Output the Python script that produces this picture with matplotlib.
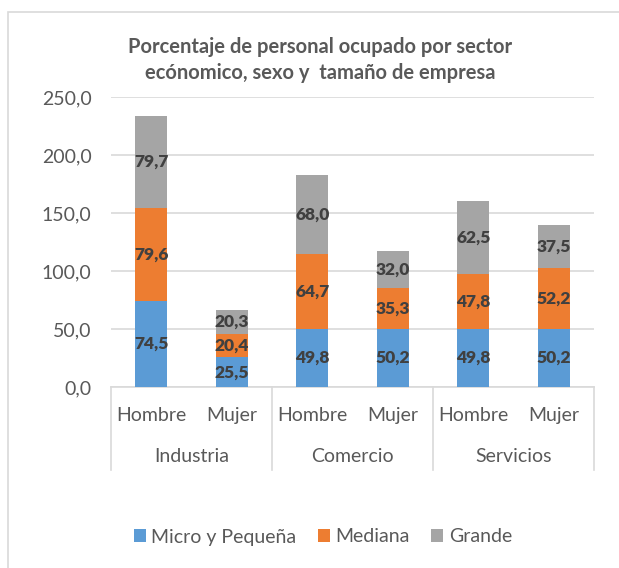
import numpy as np
import matplotlib.pyplot as plt
from matplotlib.patches import Rectangle

plt.rcParams['font.family'] = ['Lato', 'DejaVu Sans']

# data
sectors = ['Industria', 'Comercio', 'Servicios']
sexes = ['Hombre', 'Mujer']
micro = [74.5, 25.5, 49.8, 50.2, 49.8, 50.2]
mediana = [79.6, 20.4, 64.7, 35.3, 47.8, 52.2]
grande = [79.7, 20.3, 68.0, 32.0, 62.5, 37.5]
series_names = ['Micro y Pequeña', 'Mediana', 'Grande']
colors = ['#5b9bd5', '#ed7d31', '#a5a5a5']
yticks = [0, 50, 100, 150, 200, 250]

txt_gray = '#595959'
line_gray = '#d9d9d9'

fig = plt.figure(figsize=(6.19, 5.68), dpi=100)
ax = fig.add_axes([111 / 619, 1 - 387 / 568, 483 / 619, 290 / 568])

# chart border
fig.patches.append(Rectangle((8 / 619, -0.1), 1.2, 1.1 - 12 / 568, transform=fig.transFigure,
                             fill=False, edgecolor=line_gray, linewidth=1.2))

x = np.arange(len(micro))
bottom = np.zeros(len(micro))
for vals, name, col in zip([micro, mediana, grande], series_names, colors):
    bars = ax.bar(x, vals, width=0.40, bottom=bottom, color=col, label=name, zorder=3)
    labels = [f'{v:.1f}'.replace('.', ',') for v in vals]
    ax.bar_label(bars, labels=labels, label_type='center', fontsize=12.5,
                 fontweight='heavy', color='#404040', zorder=4)
    bottom += np.array(vals)

ax.set_xlim(-0.5, len(micro) - 0.5)
ax.set_ylim(0, 250)
ax.set_yticks(yticks)
ax.set_yticklabels([f'{v:.1f}'.replace('.', ',') for v in yticks], fontsize=14, color=txt_gray)
ax.tick_params(axis='y', length=0, pad=14)
ax.tick_params(axis='x', length=0, labelbottom=False)
ax.grid(axis='y', color=line_gray, linewidth=1.2, zorder=0)
for s in ['top', 'right', 'left']:
    ax.spines[s].set_visible(False)
ax.spines['bottom'].set_color(line_gray)
ax.spines['bottom'].set_linewidth(1.2)

# two-level category axis
trans = ax.get_xaxis_transform()
for b in [-0.5, 1.5, 3.5, 5.5]:
    ax.plot([b, b], [0, -0.285], transform=trans, color=line_gray, linewidth=1.2, clip_on=False)
for i in x:
    ax.text(i, -0.097, sexes[i % 2], transform=trans, ha='center', va='center',
            fontsize=14, color=txt_gray)
for j, sec in enumerate(sectors):
    ax.text(2 * j + 0.5, -0.24, sec, transform=trans, ha='center', va='center',
            fontsize=14, color=txt_gray)

fig.text(320 / 619, 1 - 60 / 568,
         'Porcentaje de personal ocupado por sector\necónomico, sexo y  tamaño de empresa',
         ha='center', va='center', fontsize=14.5, fontweight='bold', color=txt_gray,
         linespacing=1.35)

fig.legend(loc='center', bbox_to_anchor=(323 / 619, 1 - 537 / 568), ncol=3, frameon=False,
           fontsize=14, handlelength=0.6, handleheight=0.6, handletextpad=0.3,
           columnspacing=1.1, labelcolor=txt_gray)

fig.savefig('out.png', dpi=100)
